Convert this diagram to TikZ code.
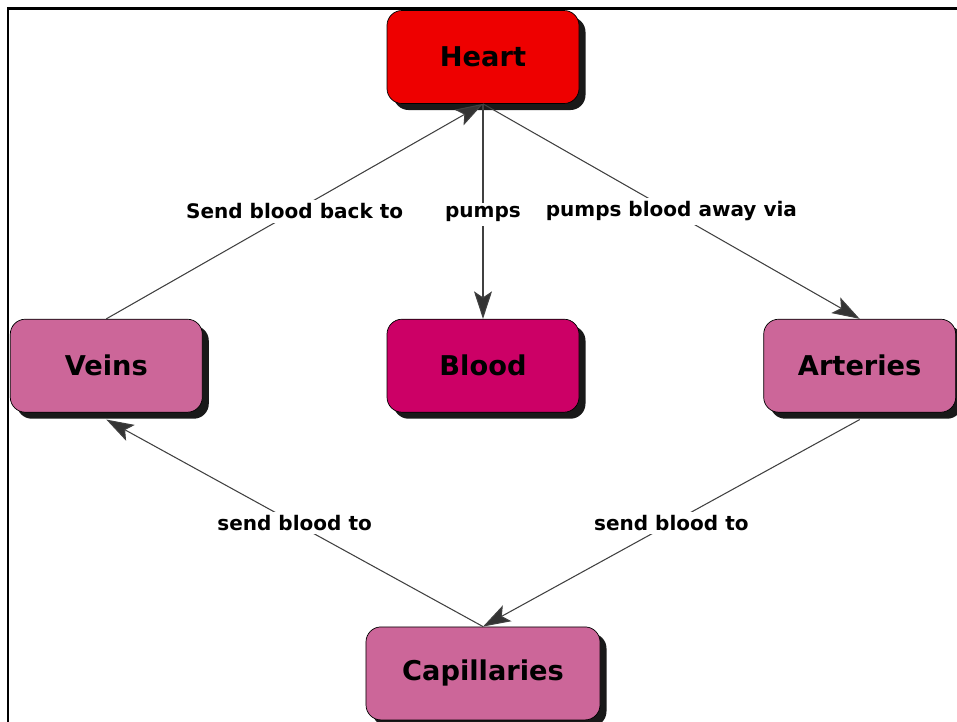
\documentclass[tikz,border=0pt]{standalone}
\usepackage{fontspec}
\setmainfont{DejaVu Sans}
\usepackage{xcolor}
\usetikzlibrary{shapes,arrows.meta,positioning,shadows}

\definecolor{heartred}{HTML}{EE0000}
\definecolor{bloodred}{HTML}{CC0066}
\definecolor{vesselpink}{HTML}{CC6699}

\begin{document}
\begin{tikzpicture}[
    concept/.style={rectangle, draw, rounded corners=0.3cm, minimum width=3.84cm, minimum height=1.86cm, font=\fontsize{15.5}{18}\selectfont\bfseries, drop shadow={shadow xshift=0.13cm, shadow yshift=-0.13cm, opacity=1, fill=black!90}},
    link/.style={fill=white, inner sep=2pt, font=\fontsize{11.4}{13}\selectfont\bfseries},
    arrow/.style={-{Stealth[length=0.55cm, width=0.36cm, inset=0.12cm, fill=black!80]}, draw=black!75, line width=0.6pt}
]
    \useasboundingbox (-9.66,-13.28) rectangle (9.48,1.14);

    % Frame
    \draw[line width=1.7pt] (-9.5,-13.5) -- (-9.5,0.98) -- (9.7,0.98);

    % Heart
    \node[concept, fill=heartred] (heart) at (0,0) {Heart};

    % Middle row
    \node[concept, fill=bloodred, below=4.3cm of heart] (blood) {Blood};
    \node[concept, fill=vesselpink, left=3.68cm of blood] (veins) {Veins};
    \node[concept, fill=vesselpink, right=3.68cm of blood] (arteries) {Arteries};

    % Capillaries
    \node[concept, fill=vesselpink, minimum width=4.68cm, below=4.28cm of blood] (capillaries) {Capillaries};

    % Arrows
    \draw[arrow] (veins.north) -- node[link, midway] {Send blood back to} (heart.south);
    \draw[arrow] (heart.south) -- node[link, midway, yshift=-0.06cm] {pumps} (blood.north);
    \draw[arrow] (heart.south) -- node[link, midway] {pumps blood away via} (arteries.north);
    \draw[arrow] ([yshift=-0.14cm]arteries.south) -- node[link, midway] {send blood to} (capillaries.north);
    \draw[arrow] (capillaries.north) -- node[link, midway] {send blood to} ([yshift=-0.14cm]veins.south);
\end{tikzpicture}
\end{document}
